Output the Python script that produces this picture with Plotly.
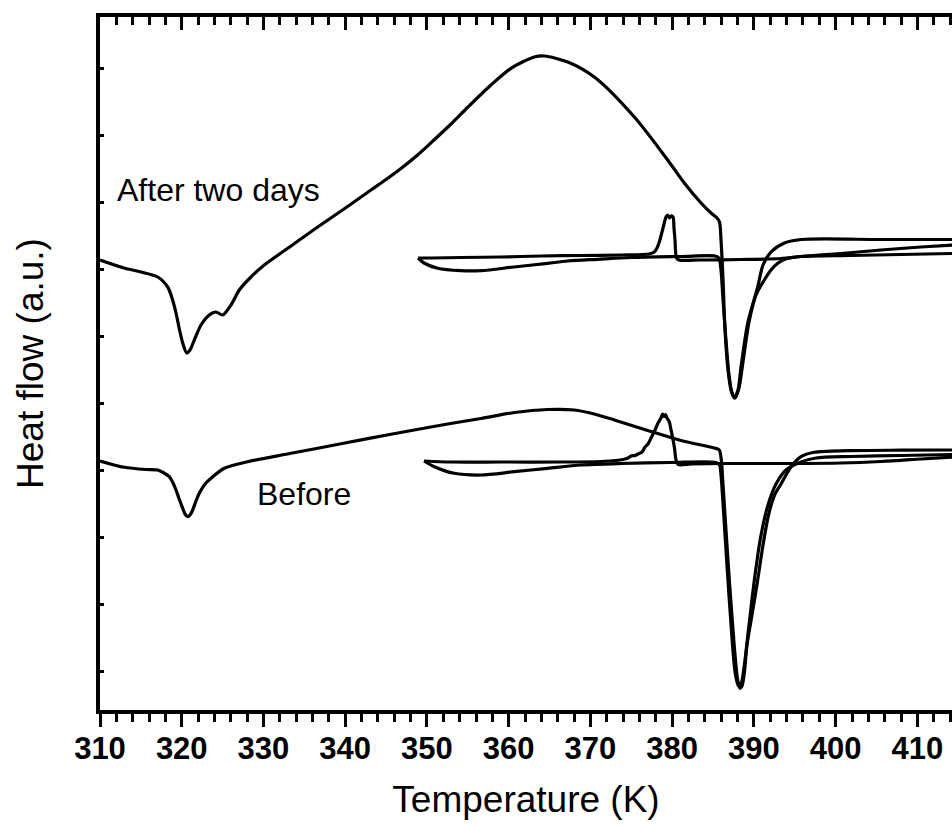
import plotly.graph_objects as go

# DSC heat-flow traces (exo up, arbitrary units) vs temperature in K.

# ---- Sample after two days ----
after_heat1_T = [310.00, 312.94, 315.02, 317.06, 318.28, 318.81, 319.30, 319.73, 320.12, 320.61,
                 321.01, 321.54, 322.36, 323.37, 324.19, 325.01, 326.03, 327.04, 328.47, 330.10,
                 333.37, 336.63, 339.85, 343.15, 344.99, 346.82, 348.78, 350.86, 352.94, 355.02,
                 357.83, 360.28, 363.13,
                 364.36, 367.22, 370.47, 375.37, 379.45, 381.48, 383.53, 384.75, 385.48, 385.79,
                 385.97, 386.22, 386.46, 386.83, 387.20, 387.60, 388.05, 388.42, 389.24, 390.46,
                 391.11, 392.09, 393.72, 395.76, 405.55, 414.35]
after_heat1_Q = [451, 443, 439, 434, 424, 413, 398, 381, 368, 358,
                 361, 371, 386, 396, 399, 396, 406, 421, 434, 446,
                 465, 484, 502, 521, 531.5, 542.5, 555.5, 571, 587, 604,
                 626, 642.7, 654,
                 655, 649, 634, 594, 551, 528, 508, 498, 493, 489,
                 471, 431, 381, 341, 321, 313, 321, 344, 388, 424,
                 446, 459, 468, 471.5, 471.5, 471.5]

after_cool_T = [414.35, 410.44, 405.55, 400.65, 395.76, 393.31, 388.42, 383.53, 380.83, 380.53,
                380.34, 380.22, 380.10, 379.86, 379.67, 379.45, 379.24, 379.03, 378.69, 378.42,
                378.08, 377.81, 377.16, 373.74, 368.84, 363.95, 359.06, 354.16, 350.49, 348.90]
after_cool_Q = [466, 464, 461, 457.5, 454.5, 452.5, 451.5, 451, 451, 453,
                471, 483, 494, 495, 493, 496, 494, 488, 477, 469,
                462, 459, 457, 456, 455.5, 455, 454, 453.5, 453, 453]

after_heat2_T = [348.90, 349.64, 351.31, 354.16, 356.61, 360.65, 364.77, 367.22, 370.89, 374.96,
                 381.08, 385.23, 385.72, 385.97, 386.22, 386.58, 386.95, 387.32, 387.69, 388.17,
                 388.66, 389.40, 390.26, 391.27, 392.09, 392.91, 394.04, 395.76, 401.87, 407.99,
                 414.35]
after_heat2_Q = [453, 448, 442.7, 440.3, 440.3, 444, 447.7, 450, 451.7, 453.5,
                 454.5, 455, 453, 441, 411, 371, 336, 318, 313, 323,
                 349, 389, 416, 431, 441, 447.7, 452.5, 454.5, 455.5, 456.5,
                 457.5]

# ---- Sample before ageing ----
before_heat1_T = [310.00, 312.97, 315.63, 317.06, 317.83, 318.48, 318.93, 319.30, 319.73, 320.12,
                  320.40, 320.73, 321.01, 321.34, 321.74, 322.15, 322.85, 323.58, 325.21, 328.07,
                  333.37, 339.48, 345.60, 352.54, 356.61, 360.69, 364.77, 368.03, 370.47, 372.92,
                  377.00, 381.08, 385.15, 385.76, 386.03, 386.18, 386.58, 386.99, 387.60, 388.01,
                  388.29, 388.54, 388.82, 389.15, 389.76, 390.46, 391.11, 391.84, 392.58, 393.31,
                  394.54, 395.76, 397.39, 401.47, 407.99, 414.35]
before_heat1_Q = [250, 243.7, 241.5, 241, 238, 234.3, 228, 221, 211, 202.7,
                  197, 194.3, 196, 201, 210, 217.7, 227, 232.7, 242.7, 249.3,
                  257.7, 267.2, 276.7, 287, 292.5, 298.5, 301.5, 301, 297, 291,
                  280.5, 270.5, 263, 261, 249, 231, 181, 131, 64.3, 31,
                  22.7, 25, 37.7, 66, 96, 131, 166, 198, 217, 227,
                  244.3, 254.3, 258.7, 260.3, 260.8, 261]

before_cool_T = [414.35, 410.44, 405.55, 400.65, 393.31, 385.97, 382.30, 380.71, 380.47, 380.28,
                 380.06, 379.86, 379.64, 379.36, 379.18, 379.00, 378.81, 378.63, 378.27, 377.90,
                 377.41, 377.04, 376.67, 376.31, 375.82, 375.45, 374.96, 374.59, 373.98, 373.13,
                 371.29, 366.40, 359.06, 352.94, 349.64]
before_cool_Q = [254, 252, 249.5, 248, 247.5, 247.5, 247, 246.5, 251, 263,
                 273, 281, 289.3, 293, 296.5, 294.5, 297, 293, 288, 281,
                 273, 267, 264, 259, 257, 255.5, 255, 253, 251.5, 250.5,
                 249.5, 249, 249, 249, 250]

before_heat2_T = [349.64, 350.90, 353.34, 356.61, 360.69, 364.77, 368.84, 373.74, 379.86, 385.36,
                  385.79, 385.97, 386.27, 386.70, 387.20, 387.69, 388.11, 388.42, 388.78, 389.40,
                  390.13, 390.87, 391.72, 392.70, 393.92, 395.76, 397.59, 401.87, 407.99, 414.35]
before_heat2_Q = [250, 244.3, 237.7, 236, 239.3, 242.7, 246, 247.5, 248.5, 248.5,
                  246, 236, 201, 146, 86, 39, 25, 27, 43, 86,
                  136, 176, 206, 227, 241, 249, 253, 254.5, 255.5, 256.5]

# (T, Q, x-axis) — the "before" set sits on the top axis, which shares the same range
curves = [
    (after_heat1_T, after_heat1_Q, "x"),
    (after_cool_T, after_cool_Q, "x"),
    (after_heat2_T, after_heat2_Q, "x"),
    (before_heat1_T, before_heat1_Q, "x2"),
    (before_cool_T, before_cool_Q, "x2"),
    (before_heat2_T, before_heat2_Q, "x2"),
]

x_range = [310, 414.23]
y_range = [1, 694]
font_family = "Liberation Sans, Arial, sans-serif"

fig = go.Figure()
for T, Q, xa in curves:
    fig.add_trace(go.Scatter(
        x=T, y=Q, mode="lines", xaxis=xa, yaxis="y",
        line=dict(color="black", width=3.2, shape="spline", smoothing=0.8),
        showlegend=False, hoverinfo="skip",
    ))

fig.add_annotation(x=311.84, y=521, text="After two days", showarrow=False,
                   xanchor="left", yanchor="middle",
                   font=dict(family=font_family, size=32, color="black"))
fig.add_annotation(x=328.96, y=217, text="Before", showarrow=False,
                   xanchor="left", yanchor="middle",
                   font=dict(family=font_family, size=32, color="black"))

fig.update_layout(
    width=952, height=825,
    margin=dict(l=100, r=0, t=17, b=115),
    paper_bgcolor="white", plot_bgcolor="white",
    xaxis=dict(
        range=x_range, showgrid=False, zeroline=False,
        showline=True, linecolor="black", linewidth=3.5,
        ticks="outside", ticklen=13, tickwidth=3, tickcolor="black",
        tick0=310, dtick=10, ticklabelstandoff=-5,
        minor=dict(ticks="outside", dtick=2, ticklen=8, tickwidth=3, tickcolor="black", showgrid=False),
        tickfont=dict(family=font_family, size=31, color="black", weight="bold"),
        title=dict(text="Temperature (K)", standoff=22,
                   font=dict(family=font_family, size=37, color="black")),
    ),
    xaxis2=dict(
        range=x_range, overlaying="x", side="top", anchor="y",
        showgrid=False, zeroline=False, showticklabels=False,
        showline=True, linecolor="black", linewidth=3.5,
        ticks="inside", ticklen=13, tickwidth=3, tickcolor="black",
        tick0=310, dtick=10,
        minor=dict(ticks="inside", dtick=2, ticklen=8, tickwidth=3, tickcolor="black", showgrid=False),
    ),
    yaxis=dict(
        range=y_range, showgrid=False, zeroline=False,
        showline=True, linecolor="black", linewidth=3.5,
        ticks="inside", ticklen=4, tickwidth=2.5, tickcolor="black",
        tick0=39.5, dtick=67, showticklabels=False,
        title=dict(text="Heat flow (a.u.)", standoff=42,
                   font=dict(family=font_family, size=37, color="black")),
    ),
)

fig.write_html("out.html")
